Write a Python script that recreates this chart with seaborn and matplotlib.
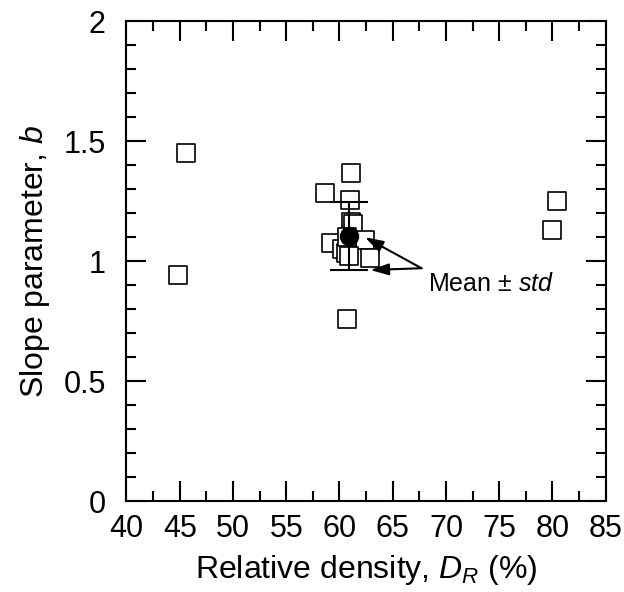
import numpy as np
import pandas as pd
import seaborn as sns
import matplotlib.pyplot as plt
from matplotlib.ticker import MultipleLocator

# dados
dr = [45.6, 44.8, 80.45, 80.0, 60.7, 61.1, 58.6, 60.95, 61.1, 61.3,
      59.2, 62.35, 60.2, 60.6, 60.9, 62.9, 60.7]
b = [1.45, 0.943, 1.251, 1.129, 0.758, 1.365, 1.282, 1.254, 1.164, 1.155,
     1.076, 1.087, 1.048, 1.034, 1.02, 1.013, 1.10]

mean_dr = [60.85]
mean_b = [1.105]
std_b = [0.142]

df = pd.DataFrame({"dr": dr, "b": b})

sns.set_style("ticks")
plt.rcParams["font.family"] = ["Liberation Sans", "DejaVu Sans"]
plt.rcParams["mathtext.fontset"] = "custom"
plt.rcParams["mathtext.rm"] = "Liberation Sans"
plt.rcParams["mathtext.it"] = "Liberation Sans:italic"
plt.rcParams["text.color"] = "black"
plt.rcParams["axes.labelcolor"] = "black"
plt.rcParams["xtick.color"] = "black"
plt.rcParams["ytick.color"] = "black"
plt.rcParams["axes.edgecolor"] = "black"

fig = plt.figure(figsize=(6.24, 5.92), dpi=100)
ax = fig.add_axes([0.2027, 0.1537, 0.768, 0.8108])

sns.scatterplot(data=df, x="dr", y="b", marker="s", s=175,
                facecolor="white", edgecolor="black", linewidth=1.2, ax=ax, zorder=3)

# media +- desvio
ax.errorbar(mean_dr, mean_b, yerr=std_b, fmt="o", color="black", ms=13,
            capsize=14, elinewidth=1.5, capthick=1.5, zorder=4)

arrow = dict(arrowstyle="-|>,head_length=1.1,head_width=0.35", color="black", lw=1.5,
             shrinkA=0, shrinkB=0)
ax.annotate("", xy=(62.4, 1.099), xytext=(67.7, 0.970), arrowprops=arrow, zorder=5)
ax.annotate("", xy=(62.9, 0.9625), xytext=(67.7, 0.970), arrowprops=arrow, zorder=5)
ax.text(68.3, 0.904, r"Mean $\pm$ $\mathit{std}$", fontsize=18, va="center", ha="left")

ax.set_xlim(40, 85)
ax.set_ylim(0, 2)
ax.xaxis.set_major_locator(MultipleLocator(5))
ax.xaxis.set_minor_locator(MultipleLocator(2.5))
ax.yaxis.set_major_locator(MultipleLocator(0.5))
ax.yaxis.set_minor_locator(MultipleLocator(0.1))
ax.set_yticks([0, 0.5, 1, 1.5, 2])
ax.set_yticklabels(["0", "0.5", "1", "1.5", "2"])

ax.tick_params(which="both", direction="in", top=True, right=True, width=1.5,
               labelsize=22)
ax.tick_params(axis="x", pad=9)
ax.tick_params(axis="y", pad=15)
ax.tick_params(which="major", length=14.4)
ax.tick_params(which="minor", length=7.2)
for s in ax.spines.values():
    s.set_linewidth(1.5)
    s.set_visible(True)

ax.set_xlabel(r"Relative density, $\mathit{D}_\mathit{R}$ (%)", fontsize=23, labelpad=7)
ax.set_ylabel(r"Slope parameter, $\mathit{b}$", fontsize=23, labelpad=8)

fig.savefig("out.png", dpi=100)
